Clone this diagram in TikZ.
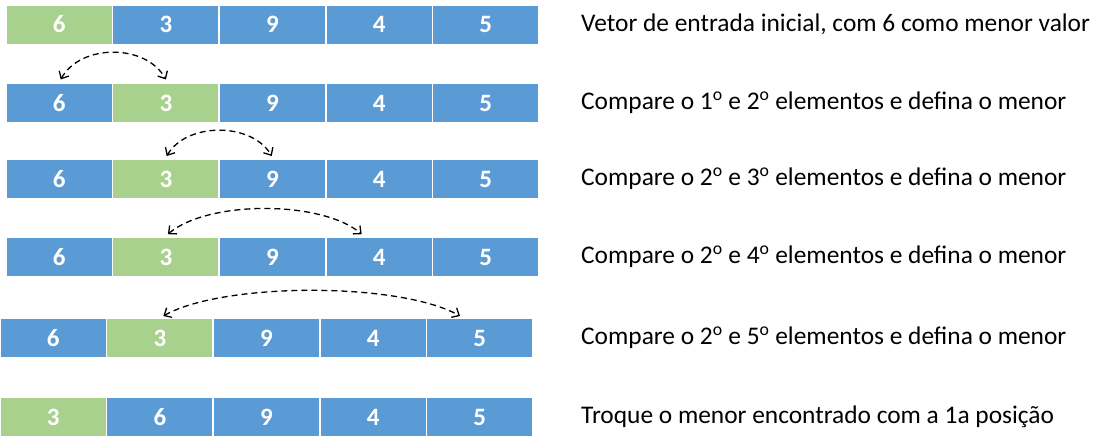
\documentclass[tikz,border=0pt]{standalone}
\usepackage{fontspec}
\setmainfont{Carlito}
\usetikzlibrary{arrows.meta}
\definecolor{cblue}{HTML}{5B9BD5}
\definecolor{cgreen}{HTML}{A9D18E}
\begin{document}
\begin{tikzpicture}[x=1pt,y=-1pt,
  cell/.style={draw=white,line width=1.5pt,minimum width=106.6pt,minimum height=39.5pt,inner sep=0pt,text=white,font=\fontsize{25}{28}\selectfont\bfseries},
  bc/.style={cell,fill=cblue},
  gc/.style={cell,fill=cgreen},
  caption/.style={anchor=west,inner sep=0pt,font=\fontsize{25.4}{30}\selectfont},
  cmp/.style={dash pattern=on 6pt off 4pt,line width=1.3pt,
    {Straight Barb[length=6pt,width=11pt]}-{Straight Barb[length=6pt,width=11pt]}}]
\useasboundingbox (0,0) rectangle (1093,445);
% rows of cells
\foreach \v/\s [count=\c] in {6/gc,3/bc,9/bc,4/bc,5/bc}
  \node[\s] (r1c\c) at (6+\c*106.6-53.3,24.5) {\v};
\foreach \v/\s [count=\c] in {6/bc,3/gc,9/bc,4/bc,5/bc}
  \node[\s] (r2c\c) at (6+\c*106.6-53.3,103) {\v};
\foreach \v/\s [count=\c] in {6/bc,3/gc,9/bc,4/bc,5/bc}
  \node[\s] (r3c\c) at (6+\c*106.6-53.3,179) {\v};
\foreach \v/\s [count=\c] in {6/bc,3/gc,9/bc,4/bc,5/bc}
  \node[\s] (r4c\c) at (6+\c*106.6-53.3,257) {\v};
\foreach \v/\s [count=\c] in {6/bc,3/gc,9/bc,4/bc,5/bc}
  \node[\s] (r5c\c) at (\c*106.6-53.3,338) {\v};
\foreach \v/\s [count=\c] in {3/gc,6/bc,9/bc,4/bc,5/bc}
  \node[\s] (r6c\c) at (\c*106.6-53.3,417) {\v};
% captions
\node[caption] (t1) at (581,24.5) {Vetor de entrada inicial, com 6 como menor valor};
\node[caption] (t2) at (581,103) {Compare o 1\textsuperscript{o} e 2\textsuperscript{o} elementos e defina o menor};
\node[caption] (t3) at (581,179) {Compare o 2\textsuperscript{o} e 3\textsuperscript{o} elementos e defina o menor};
\node[caption] (t4) at (581,257) {Compare o 2\textsuperscript{o} e 4\textsuperscript{o} elementos e defina o menor};
\node[caption] (t5) at (581,338) {Compare o 2\textsuperscript{o} e 5\textsuperscript{o} elementos e defina o menor};
\node[caption] (t6) at (581,417) {Troque o menor encontrado com a 1a posição};
% comparison arcs
\draw[cmp] ([xshift=1.4pt,yshift=3pt]r2c1.north) .. controls +(20,-36) and +(-20,-36) .. ([yshift=3pt]r2c2.north);
\draw[cmp] ([xshift=0.8pt,yshift=2.5pt]r3c2.north) .. controls +(20,-34) and +(-20,-34) .. ([xshift=-0.8pt,yshift=2.5pt]r3c3.north);
\draw[cmp] ([xshift=2pt,yshift=2.3pt]r4c2.north) .. controls +(40,-34) and +(-40,-34) .. ([xshift=-17.4pt,yshift=2.3pt]r4c4.north);
\draw[cmp] ([xshift=3.4pt,yshift=1.5pt]r5c2.north) .. controls +(60,-34) and +(-60,-34) .. ([xshift=-19.7pt,yshift=1.5pt]r5c5.north);
\end{tikzpicture}
\end{document}
